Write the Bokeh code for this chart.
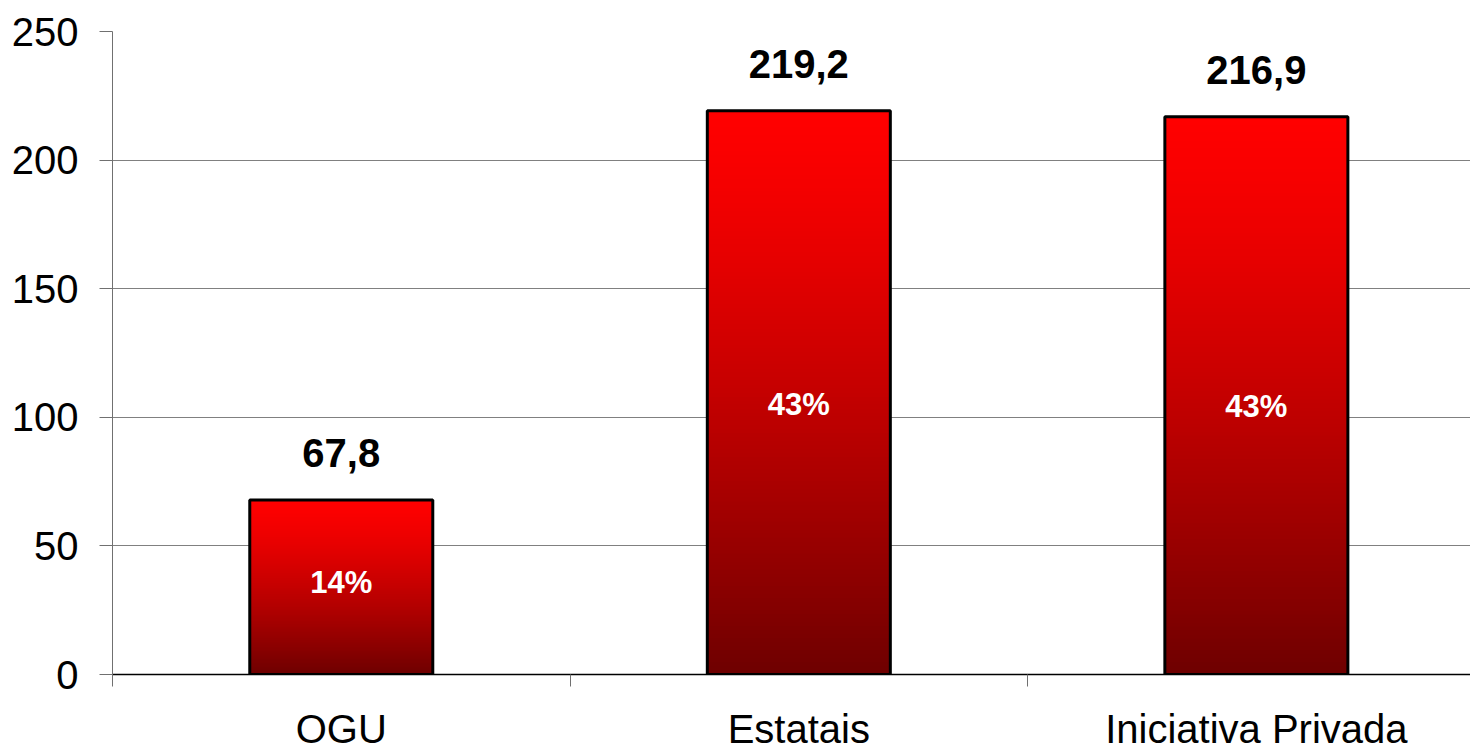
from bokeh.plotting import figure
from bokeh.models import Range1d, FixedTicker
from bokeh.embed import file_html
from bokeh.resources import INLINE
from bokeh.core.properties import value

# ---- data ----
categories = ["OGU", "Estatais", "Iniciativa Privada"]
values = [67.8, 219.2, 216.9]
value_labels = ["67,8", "219,2", "216,9"]
share_labels = ["14%", "43%", "43%"]
y_ticks = [0, 50, 100, 150, 200, 250]
grid_ticks = [50, 100, 150, 200]

FONT = "Liberation Sans"
W, H = 1470, 753
BAR_HALF = 0.2

p = figure(width=W, height=H, output_backend="svg", toolbar_location=None,
           x_range=Range1d(0, 2.968), y_range=Range1d(0, 250),
           min_border_left=112, min_border_right=0, min_border_top=31,
           min_border_bottom=77)
p.outline_line_color = None
p.background_fill_color = "white"
p.border_fill_color = "white"

centers = [i + 0.5 for i in range(len(categories))]

# gradient bars built from thin slices
N = 140
left, right, bottom, top, colors = [], [], [], [], []
for cx, v in zip(centers, values):
    for j in range(N):
        b = v * j / N
        t = min(v, v * (j + 1.6) / N)
        f = 1 - (j + 0.5) / N  # 0 at top, 1 at bottom
        r = int(round(255 - 145 * f ** 1.3))
        left.append(cx - BAR_HALF)
        right.append(cx + BAR_HALF)
        bottom.append(b)
        top.append(t)
        colors.append("#%02x0000" % r)
p.quad(left=left, right=right, bottom=bottom, top=top,
       fill_color=colors, line_color=None)

# outlines
p.quad(left=[c - BAR_HALF for c in centers], right=[c + BAR_HALF for c in centers],
       bottom=[0] * len(values), top=values,
       fill_color=None, line_color="black", line_width=3)

# value labels above bars
p.text(x=centers, y=values, text=value_labels, text_font=value(FONT),
       text_font_style="bold", text_font_size="40px", text_color="black",
       text_align="center", text_baseline="alphabetic", y_offset=-47)

# share labels inside bars
p.text(x=centers, y=[0.458 * v for v in values], text=share_labels,
       text_font=value(FONT), text_font_style="bold", text_font_size="31px",
       text_color="white", text_align="center", text_baseline="alphabetic",
       y_offset=-12)

# y axis
ya = p.yaxis[0]
ya.ticker = FixedTicker(ticks=y_ticks)
ya.major_tick_out = 13
ya.major_tick_in = 0
ya.minor_tick_out = 0
ya.minor_tick_in = 0
ya.axis_line_color = "#707070"
ya.major_tick_line_color = "#707070"
ya.major_label_text_font = FONT
ya.major_label_text_font_size = "40px"
ya.major_label_text_color = "black"
ya.major_label_standoff = 21

p.ygrid.ticker = FixedTicker(ticks=grid_ticks)
p.ygrid.grid_line_color = "#808080"
p.ygrid.grid_line_width = 1
p.xgrid.visible = False

# x axis
xa = p.xaxis[0]
xa.ticker = FixedTicker(ticks=centers, minor_ticks=[float(i) for i in range(len(categories) + 1)])
xa.major_label_overrides = {c: name for c, name in zip(centers, categories)}
xa.major_tick_line_color = None
xa.major_tick_out = 12
xa.major_tick_in = 0
xa.minor_tick_out = 12
xa.minor_tick_in = 0
xa.minor_tick_line_color = "#707070"
xa.axis_line_color = "black"
xa.axis_line_width = 1.5
xa.major_label_text_font = FONT
xa.major_label_text_font_size = "40px"
xa.major_label_text_color = "black"
xa.major_label_standoff = 20

open("out.html", "w").write(file_html(p, INLINE))
